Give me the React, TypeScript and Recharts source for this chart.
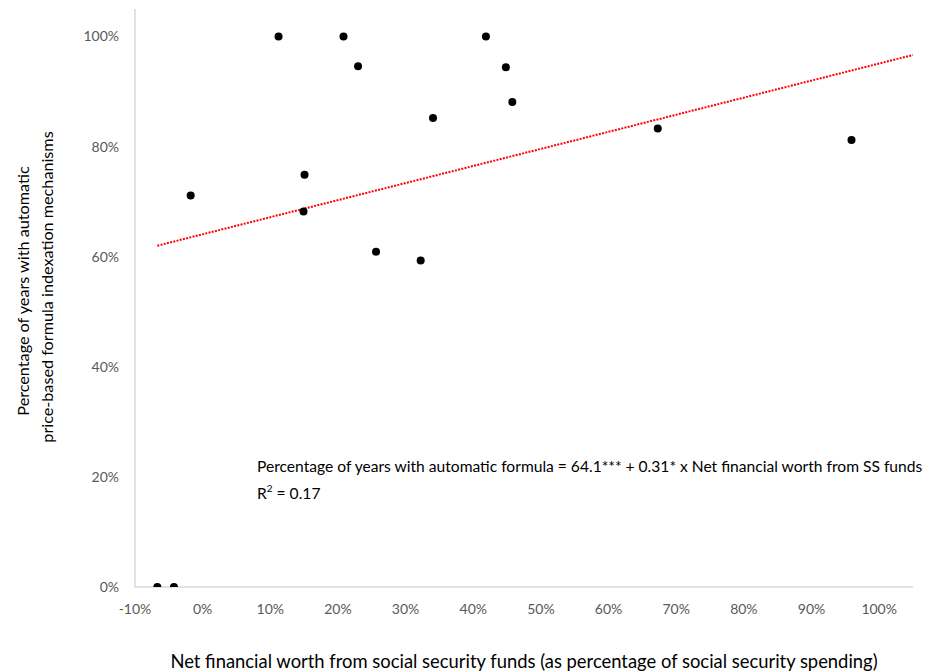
import React from 'react';
import { ScatterChart, Scatter, XAxis, YAxis, Customized } from 'recharts';

// Net financial worth from SS funds (% of SS spending)
const pointX = [-6.7, -4.24, -1.77, 11.22, 15.06, 14.91, 20.82, 22.97, 25.63, 32.23, 34.05, 41.87, 44.82, 45.77, 67.27, 95.91];
// Percentage of years with automatic price-based formula indexation
const pointY = [0, 0, 71.1, 100, 74.9, 68.2, 100, 94.6, 60.9, 59.3, 85.2, 100, 94.4, 88.1, 83.3, 81.2];

const trendX = [-6.7, 105];
const trendY = [62.0, 96.65];

const xTicks = [-10, 0, 10, 20, 30, 40, 50, 60, 70, 80, 90, 100];
const yTicks = [0, 20, 40, 60, 80, 100];

const xTitle = 'Net financial worth from social security funds (as percentage of social security spending)';
const yTitleLines = ['Percentage of years with automatic', 'price-based formula indexation mechanisms'];
const equationText = 'Percentage of years with automatic formula = 64.1*** + 0.31* x Net financial worth from SS funds';
const r2Value = '0.17';

const points = pointX.map((x, i) => ({ x, y: pointY[i] }));
const trend = trendX.map((x, i) => ({ x, y: trendY[i] }));

const FONT = 'Lato, "Liberation Sans", sans-serif';

const Annotations = () => (
  <g fontFamily={FONT}>
    <text x={524} y={661} textAnchor="middle" dominantBaseline="central" fontSize={18.4} fill="#000">
      {xTitle}
    </text>
    <text transform="translate(22,291) rotate(-90)" textAnchor="middle" dominantBaseline="central" fontSize={16.2} fill="#000">
      {yTitleLines[0]}
    </text>
    <text transform="translate(46,287) rotate(-90)" textAnchor="middle" dominantBaseline="central" fontSize={16.2} fill="#000">
      {yTitleLines[1]}
    </text>
    <text x={257} y={466} dominantBaseline="central" fontSize={15.6} fill="#000">
      {equationText}
    </text>
    <text x={257} y={493} dominantBaseline="central" fontSize={15.6} fill="#000">
      R<tspan fontSize={10} dy={-5}>2</tspan><tspan dy={5}>{' = ' + r2Value}</tspan>
    </text>
  </g>
);

const Dot = (p: any) => <circle cx={p.cx} cy={p.cy} r={4} fill="#000" />;

export default function App() {
  return (
    <div style={{ position: 'absolute', left: 0, top: 0, width: 932, height: 672, background: '#fff' }}>
      <ScatterChart width={932} height={672} margin={{ top: 9, right: 19, bottom: 0, left: 0 }}>
        <XAxis
          type="number"
          dataKey="x"
          domain={[-10, 105]}
          ticks={xTicks}
          allowDataOverflow
          height={85}
          axisLine={{ stroke: '#d9d9d9', strokeWidth: 1.5 }}
          tickLine={false}
          tickSize={0}
          tickMargin={17}
          tickFormatter={(v: number) => `${v}%`}
          tick={{ fill: '#595959', fontSize: 14, fontFamily: FONT }}
        />
        <YAxis
          type="number"
          dataKey="y"
          domain={[0, 105]}
          ticks={yTicks}
          allowDataOverflow
          width={135}
          axisLine={{ stroke: '#d9d9d9', strokeWidth: 1.5 }}
          tickLine={false}
          tickSize={0}
          tickMargin={16}
          tickFormatter={(v: number) => `${v}%`}
          tick={{ fill: '#595959', fontSize: 14, fontFamily: FONT }}
        />
        <Scatter
          data={trend}
          isAnimationActive={false}
          line={{ stroke: '#ff0000', strokeWidth: 2, strokeDasharray: '2 1.3' }}
          shape={() => <g />}
        />
        <Scatter data={points} isAnimationActive={false} shape={Dot} />
        <Customized component={Annotations} />
      </ScatterChart>
    </div>
  );
}
